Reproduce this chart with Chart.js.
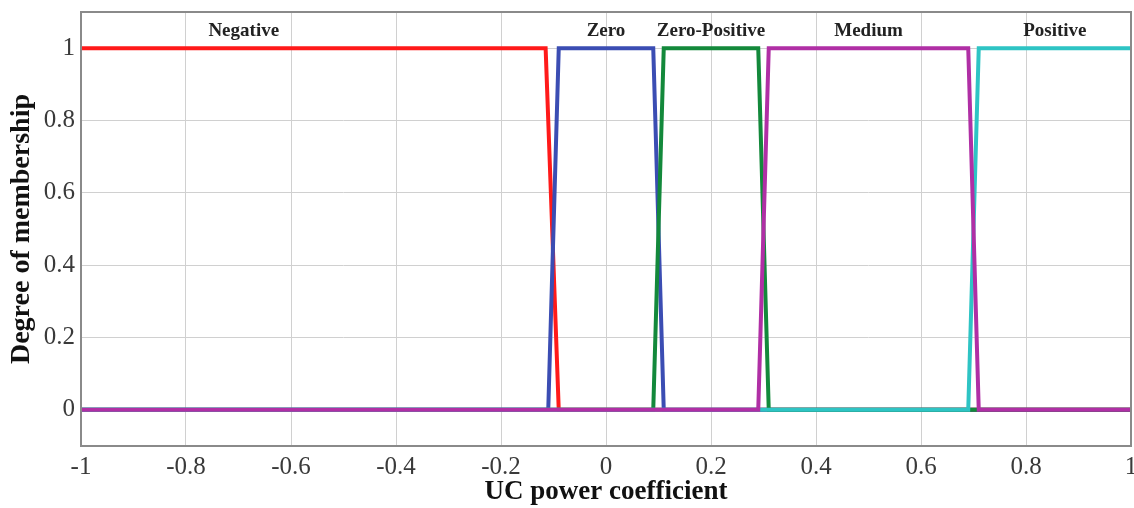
<!DOCTYPE html>
<html>
<head>
<meta charset="utf-8">
<script src="https://cdn.jsdelivr.net/npm/chart.js@4.4.1/dist/chart.umd.min.js"></script>
<style>
html,body{margin:0;padding:0;background:#fff;}
#wrap{width:1134px;height:508px;position:relative;}
</style>
</head>
<body>
<div id="wrap"><canvas id="c"></canvas></div>
<script>
// membership function breakpoints (x) and degrees (y)
const negX = [-1, -0.115, -0.09, 1];
const negY = [1, 1, 0, 0];
const zeroX = [-1, -0.11, -0.09, 0.09, 0.11, 1];
const zeroY = [0, 0, 1, 1, 0, 0];
const zposX = [-1, 0.09, 0.11, 0.29, 0.31, 1];
const zposY = [0, 0, 1, 1, 0, 0];
const posX = [-1, 0.69, 0.71, 1];
const posY = [0, 0, 1, 1];
const medX = [-1, 0.29, 0.31, 0.69, 0.71, 1];
const medY = [0, 0, 1, 1, 0, 0];

const labelNames = ["Negative","Zero","Zero-Positive","Medium","Positive"];
const labelX = [-0.69, 0.0, 0.2, 0.5, 0.855];
const labelY = 1.047;

const xTicks = [-1,-0.8,-0.6,-0.4,-0.2,0,0.2,0.4,0.6,0.8,1];
const yTicks = [0,0.2,0.4,0.6,0.8,1];

const pts = (xs,ys)=>xs.map((x,i)=>({x:x,y:ys[i]}));
// order: lower number is drawn on top
const mk = (label,xs,ys,color,order)=>({label,data:pts(xs,ys),borderColor:color,backgroundColor:color,
  showLine:true,borderWidth:4,pointRadius:0,tension:0,fill:false,order});

const serif = "'Liberation Serif','Times New Roman',serif";

const frame = {
  id:"frame",
  afterDatasetsDraw(chart){
    const {ctx,chartArea:a,scales} = chart;
    ctx.save();
    ctx.strokeStyle = "#8a8a8a";
    ctx.lineWidth = 2;
    ctx.strokeRect(a.left, a.top, a.right-a.left, a.bottom-a.top);
    ctx.fillStyle = "#222";
    ctx.font = "bold 19px " + serif;
    ctx.textAlign = "center";
    ctx.textBaseline = "middle";
    labelNames.forEach((n,i)=>{
      ctx.fillText(n, scales.x.getPixelForValue(labelX[i]), scales.y.getPixelForValue(labelY));
    });
    ctx.restore();
  }
};

new Chart(document.getElementById("c"),{
  type:"scatter",
  data:{datasets:[
    mk("Negative",negX,negY,"#ff1a1a",5),
    mk("Zero",zeroX,zeroY,"#3b4db3",4),
    mk("Zero-Positive",zposX,zposY,"#13893b",3),
    mk("Positive",posX,posY,"#2ec4c4",2),
    mk("Medium",medX,medY,"#b02fa5",1)
  ]},
  options:{
    responsive:true,maintainAspectRatio:false,animation:false,
    layout:{padding:{left:0,right:3,top:12,bottom:0}},
    plugins:{legend:{display:false},tooltip:{enabled:false}},
    scales:{
      x:{
        type:"linear",min:-1,max:1,
        afterBuildTicks(s){s.ticks = xTicks.map(v=>({value:v}));},
        afterFit(s){s.height = 62; s.paddingLeft = 0; s.paddingRight = 0;},
        grid:{color:"#d0d0d0",lineWidth:1,drawTicks:false},
        border:{display:false},
        ticks:{color:"#3a3a3a",padding:6,font:{family:serif,size:25},callback:v=>String(v)},
        title:{display:true,text:"UC power coefficient",color:"#111",padding:{top:0,bottom:2},
          font:{family:serif,size:27,weight:"bold",lineHeight:1}}
      },
      y:{
        type:"linear",min:-0.1,max:1.1,
        afterBuildTicks(s){s.ticks = yTicks.map(v=>({value:v}));},
        afterFit(s){s.width = 81; s.paddingTop = 0; s.paddingBottom = 0;},
        grid:{color:"#d0d0d0",lineWidth:1,drawTicks:false},
        border:{display:false},
        ticks:{color:"#3a3a3a",padding:6,font:{family:serif,size:25},callback:v=>String(v)},
        title:{display:true,text:"Degree of membership",color:"#111",padding:{top:5,bottom:0},
          font:{family:serif,size:28,weight:"bold"}}
      }
    }
  },
  plugins:[frame]
});
</script>
</body>
</html>
